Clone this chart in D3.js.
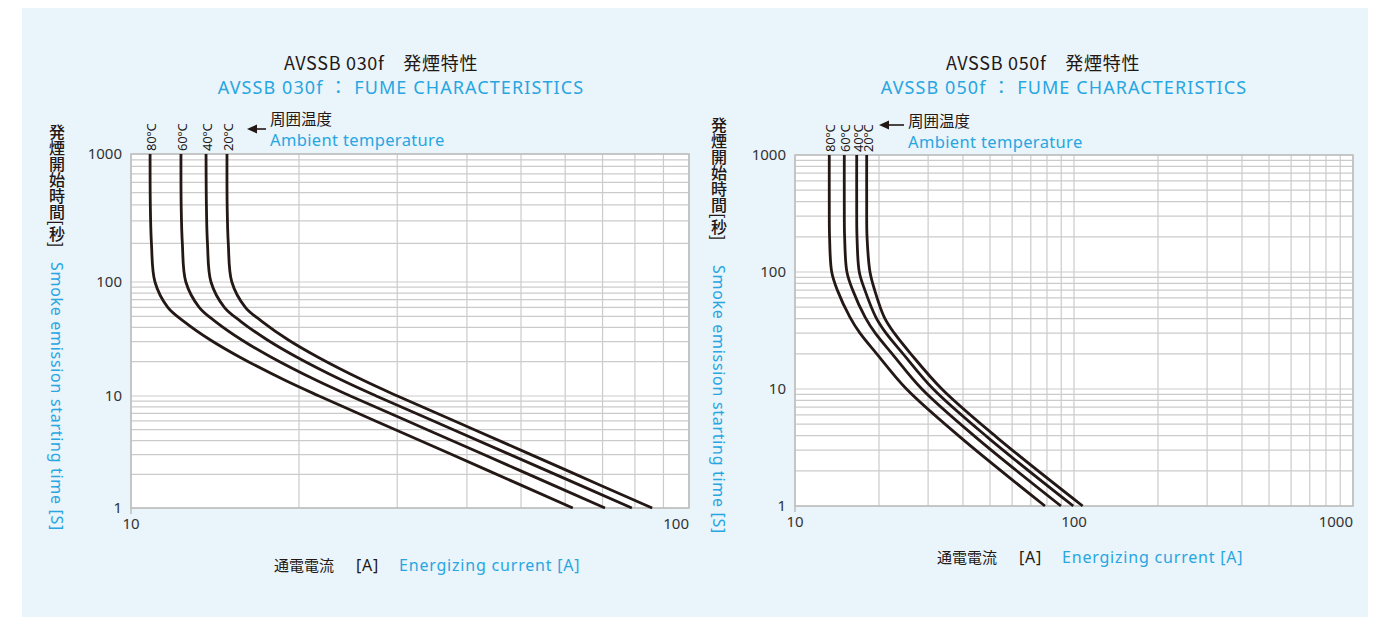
<!DOCTYPE html>
<html>
<head>
<meta charset="utf-8">
<script src="https://cdn.jsdelivr.net/npm/d3@7/dist/d3.min.js"></script>
<style>
  html, body { margin: 0; padding: 0; background: #ffffff; }
  svg { display: block; }
  text { font-family: "Noto Sans", "Noto Sans CJK JP", sans-serif; }
  .jp { font-family: "Noto Sans CJK JP", "Noto Sans", sans-serif; }
  .jpm { font-family: "Noto Sans CJK JP", "Noto Sans", sans-serif; font-weight: 500; }
</style>
</head>
<body>
<svg id="chart" width="1379" height="617"></svg>
<script>
// ---------------- DATA ----------------
const seriesLabels = ["80°C", "60°C", "40°C", "20°C"];

// Left chart: AVSSB 030f
const leftTitleJp = "AVSSB 030f\u3000発煙特性";
const leftTitleEn = "AVSSB 030f \uFF1A FUME CHARACTERISTICS";
const leftTimes = [1000, 400, 200, 100, 60, 45, 31, 22, 13.8, 10, 5, 2.2, 1];
const left80 = [10.82, 10.83, 10.88, 11.04, 11.64, 12.45, 13.88, 15.65, 18.84, 21.73, 29.78, 43.27, 61.9];
const left60 = [12.29, 12.30, 12.36, 12.54, 13.25, 14.17, 15.80, 17.81, 21.44, 24.73, 33.95, 49.37, 70.7];
const left40 = [13.63, 13.65, 13.71, 13.91, 14.70, 15.74, 17.56, 19.80, 23.85, 27.51, 37.82, 55.08, 79.0];
const left20 = [14.86, 14.87, 14.94, 15.16, 16.03, 17.18, 19.15, 21.60, 26.02, 30.03, 41.25, 59.97, 85.9];
const leftXTicks = [10, 100];
const leftXTickLabels = ["10", "100"];

// Right chart: AVSSB 050f
const rightTitleJp = "AVSSB 050f\u3000発煙特性";
const rightTitleEn = "AVSSB 050f \uFF1A FUME CHARACTERISTICS";
const rightTimes = [1000, 400, 200, 100, 70, 41, 30, 20, 10, 3.9, 1];
const right80 = [13.27, 13.27, 13.3, 13.54, 14.18, 15.75, 17.1, 19.63, 25.1, 39.0, 78.7];
const right60 = [15.02, 15.02, 15.06, 15.35, 16.1, 17.85, 19.4, 22.3, 28.5, 44.3, 89.8];
const right40 = [16.64, 16.64, 16.68, 17.0, 17.8, 19.5, 21.2, 24.4, 31.3, 48.8, 99.4];
const right20 = [18.07, 18.07, 18.12, 18.57, 19.3, 20.9, 22.7, 26.0, 33.6, 52.6, 107.4];
const rightXTicks = [10, 100, 1000];
const rightXTickLabels = ["10", "100", "1000"];

const yTicks = [1, 10, 100, 1000];
const yTickLabels = ["1", "10", "100", "1000"];

const yLabelJp = "発煙開始時間[秒]";
const yLabelEn = "Smoke emission starting time [S]";
const xLabelJp = "通電電流";
const xLabelUnit = "[A]";
const xLabelEn = "Energizing current [A]";
const ambientJp = "周囲温度";
const ambientEn = "Ambient temperature";

// ---------------- STYLE ----------------
const DARK = "#231815";
const BLUE = "#27a6e1";
const GRID = "#cbcbcb";
const BORDER = "#bdbdbd";

const svg = d3.select("#chart");
svg.append("rect").attr("x", 22).attr("y", 8).attr("width", 1346).attr("height", 609).attr("fill", "#eaf4fb");

function minorValues(lo, hi) {
  const out = [];
  for (let d = lo; d < hi; d *= 10) {
    for (let k = 1; k <= 9; k++) out.push(d * k);
  }
  out.push(hi);
  return out;
}

function drawChart(cfg) {
  const g = svg.append("g");
  const x = cfg.x, y = cfg.y;
  const [x0, x1] = [x(cfg.xDom[0]), x(cfg.xDom[1])];
  const [yb, yt] = [y(1), y(1000)];

  g.append("rect").attr("x", x0).attr("y", yt).attr("width", x1 - x0).attr("height", yb - yt).attr("fill", "#fff");

  // grid
  g.selectAll(".vg").data(minorValues(cfg.xDom[0], cfg.xDom[1])).enter().append("line")
    .attr("x1", d => x(d)).attr("x2", d => x(d)).attr("y1", yt).attr("y2", yb)
    .attr("stroke", GRID).attr("stroke-width", 1.2);
  g.selectAll(".hg").data(minorValues(1, 1000)).enter().append("line")
    .attr("x1", x0).attr("x2", x1).attr("y1", d => y(d)).attr("y2", d => y(d))
    .attr("stroke", GRID).attr("stroke-width", 1.2);
  g.append("rect").attr("x", x0).attr("y", yt).attr("width", x1 - x0).attr("height", yb - yt)
    .attr("fill", "none").attr("stroke", BORDER).attr("stroke-width", 1.5);

  // small tick at first x
  g.append("line").attr("x1", x0).attr("x2", x0).attr("y1", yb).attr("y2", yb + 6).attr("stroke", BORDER).attr("stroke-width", 1.5);

  // y tick labels
  g.selectAll(".yl").data(yTicks).enter().append("text")
    .attr("x", x0 - 9).attr("y", d => y(d)).attr("dy", "0.35em")
    .attr("text-anchor", "end").attr("font-size", 15).attr("fill", "#333")
    .text((d, i) => yTickLabels[i]);
  // x tick labels
  g.selectAll(".xl").data(cfg.xTicks).enter().append("text")
    .attr("x", d => x(d)).attr("y", yb + 21)
    .attr("text-anchor", (d, i) => i === cfg.xTicks.length - 1 ? "end" : "middle")
    .attr("font-size", 15).attr("fill", "#333")
    .text((d, i) => cfg.xTickLabels[i]);

  // curves
  const line = d3.line().x(d => x(d[0])).y(d => y(d[1])).curve(d3.curveCatmullRom.alpha(0.5));
  cfg.series.forEach((s, i) => {
    const pts = s.map((v, j) => [v, cfg.times[j]]);
    g.append("path").attr("d", line(pts)).attr("fill", "none")
      .attr("stroke", DARK).attr("stroke-width", 2.8).attr("stroke-linejoin", "round");
    g.append("text")
      .attr("transform", `translate(${x(s[0]) + 1},${yt - 3}) rotate(-90)`)
      .attr("dominant-baseline", "central")
      .attr("font-size", 13).attr("fill", DARK)
      .attr("letter-spacing", -0.3)
      .text(seriesLabels[i]);
  });

  // ambient arrow and label
  const ax = cfg.arrow;
  g.append("line").attr("x1", ax.x2).attr("x2", ax.x1 + 8).attr("y1", ax.y).attr("y2", ax.y)
    .attr("stroke", DARK).attr("stroke-width", 1.6);
  g.append("path").attr("d", `M${ax.x1},${ax.y} L${ax.x1 + 10},${ax.y - 4.5} L${ax.x1 + 10},${ax.y + 4.5} Z`).attr("fill", DARK);
  g.append("text").attr("class", "jp").attr("x", ax.tx).attr("y", ax.ty1).attr("font-size", 15.5).attr("fill", DARK).text(ambientJp);
  g.append("text").attr("x", ax.tx).attr("y", ax.ty2).attr("font-size", 16.5).attr("letter-spacing", 0.35).attr("fill", BLUE).text(ambientEn);

  // titles
  g.append("text").attr("class", "jp").attr("x", cfg.titleX).attr("y", 70).attr("text-anchor", "middle")
    .attr("font-size", 18).attr("letter-spacing", 0.7).attr("fill", DARK).text(cfg.titleJp);
  g.append("text").attr("x", cfg.titleEnX).attr("y", 94).attr("text-anchor", "middle")
    .attr("font-size", 18).attr("fill", BLUE).attr("letter-spacing", 1.1).text(cfg.titleEn);

  // y labels
  g.append("text").attr("class", "jpm")
    .attr("x", cfg.yLabX).attr("y", cfg.yJpTop)
    .attr("font-size", 16).attr("fill", DARK)
    .style("writing-mode", "vertical-rl").style("text-orientation", "mixed")
    .text(yLabelJp);
  g.append("text")
    .attr("transform", `translate(${cfg.yLabX},${cfg.yEnTop}) rotate(90)`)
    .attr("dominant-baseline", "central")
    .attr("font-size", 16).attr("letter-spacing", 0.7).attr("fill", BLUE).text(yLabelEn);

  // x labels
  const xl = g.append("text").attr("y", cfg.xLabY).attr("font-size", 16);
  xl.append("tspan").attr("class", "jp").attr("x", cfg.xLabX).attr("font-size", 15).attr("fill", DARK).text(xLabelJp);
  xl.append("tspan").attr("x", cfg.xLabX + 82).attr("letter-spacing", 0.8).attr("fill", DARK).text(xLabelUnit);
  xl.append("tspan").attr("x", cfg.xLabX + 125).attr("letter-spacing", 0.8).attr("fill", BLUE).text(xLabelEn);
}

drawChart({
  x: d3.scaleLog().domain([10, 100]).range([131, 689]),
  y: d3.scaleLog().domain([1, 10, 100, 1000]).range([508, 396, 282, 154]),
  xDom: [10, 100],
  xTicks: leftXTicks, xTickLabels: leftXTickLabels,
  times: leftTimes,
  series: [left80, left60, left40, left20],
  arrow: { x1: 247, x2: 266, y: 129, tx: 270, ty1: 124.5, ty2: 145.5 },
  titleJp: leftTitleJp, titleEn: leftTitleEn, titleX: 381, titleEnX: 401,
  yLabX: 57, yJpTop: 124, yEnTop: 262,
  xLabX: 274, xLabY: 571
});

drawChart({
  x: d3.scaleLog().domain([10, 1000]).range([795, 1353]),
  y: d3.scaleLog().domain([1, 1000]).range([506, 155]),
  xDom: [10, 1000],
  xTicks: rightXTicks, xTickLabels: rightXTickLabels,
  times: rightTimes,
  series: [right80, right60, right40, right20],
  arrow: { x1: 879, x2: 904, y: 125, tx: 908, ty1: 126.5, ty2: 147.5 },
  titleJp: rightTitleJp, titleEn: rightTitleEn, titleX: 1043, titleEnX: 1064,
  yLabX: 719, yJpTop: 117, yEnTop: 265,
  xLabX: 937, xLabY: 563
});
</script>
</body>
</html>
